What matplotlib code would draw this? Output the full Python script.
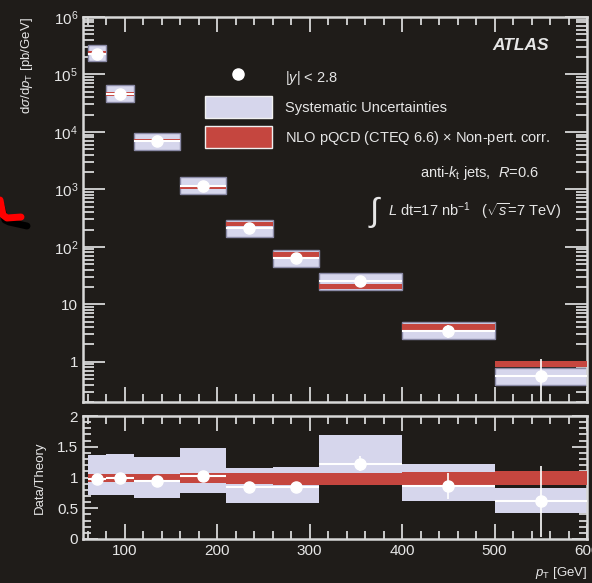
import numpy as np
import matplotlib.pyplot as plt
from matplotlib.lines import Line2D
from matplotlib.patches import Patch
from matplotlib.ticker import MultipleLocator, LogLocator, FixedLocator, NullFormatter

plt.rcParams['font.family'] = ['Liberation Sans', 'DejaVu Sans']
plt.rcParams['mathtext.fontset'] = 'custom'
plt.rcParams['mathtext.rm'] = 'Liberation Sans'
plt.rcParams['mathtext.it'] = 'Liberation Sans:italic'
plt.rcParams['mathtext.bf'] = 'Liberation Sans:bold'

# pT bins [GeV]
bin_lo = [60, 80, 110, 160, 210, 260, 310, 400, 500]
bin_hi = [80, 110, 160, 210, 260, 310, 400, 500, 600]
bin_c = [70, 95, 135, 185, 235, 285, 355, 450, 550]

# measured cross section [pb/GeV]
xsec = [2.3e5, 4.6e4, 6.9e3, 1.15e3, 214, 64, 25, 3.5, 0.57]
stat_rel = [0.02, 0.02, 0.03, 0.03, 0.04, 0.06, 0.10, 0.25, 0.95]
sys_lo = [0.73, 0.72, 0.71, 0.73, 0.70, 0.70, 0.72, 0.72, 0.69]
sys_hi = [1.41, 1.40, 1.40, 1.43, 1.38, 1.40, 1.39, 1.41, 1.36]

# NLO theory
theory = [2.37e5, 4.6e4, 7.2e3, 1.12e3, 255, 76, 21, 4.1, 0.95]
th_lo = [0.93, 0.93, 0.92, 0.91, 0.89, 0.88, 0.88, 0.87, 0.87]
th_hi = [1.06, 1.06, 1.06, 1.07, 1.07, 1.07, 1.08, 1.09, 1.10]

# data / theory
ratio = [0.97, 0.99, 0.95, 1.03, 0.84, 0.84, 1.22, 0.86, 0.61]

ytick_vals = [1, 10, 1e2, 1e3, 1e4, 1e5, 1e6]
ytick_labels = ['1', '10', '$10^2$', '$10^3$', '$10^4$', '$10^5$', '$10^6$']

bg = '#1f1c19'
fg = '#e6e6e6'
light = '#d6d6ec'
red = '#c5463f'

fig = plt.figure(figsize=(5.92, 5.83), dpi=100, facecolor=bg)
ax = fig.add_axes([0.140, 0.3105, 0.8516, 0.6605], facecolor=bg)
axr = fig.add_axes([0.140, 0.0755, 0.8516, 0.2109], facecolor=bg)

lo = np.array(bin_lo)
w = np.array(bin_hi) - lo
xs = np.array(xsec)
th = np.array(theory)
rt = np.array(ratio)

# top panel
ax.bar(lo, xs * (np.array(sys_hi) - np.array(sys_lo)), width=w, bottom=xs * np.array(sys_lo),
       align='edge', color=light, edgecolor='#8a8aa6', linewidth=1, zorder=2)
ax.bar(lo, th * (np.array(th_hi) - np.array(th_lo)), width=w, bottom=th * np.array(th_lo),
       align='edge', color=red, linewidth=0, zorder=3)
ax.hlines(xs, lo, lo + w, color='white', lw=1.5, zorder=4)
ax.errorbar(bin_c, xs, yerr=[xs * np.minimum(np.array(stat_rel), 0.999), xs * np.array(stat_rel)],
            fmt='o', color='white', ms=8, elinewidth=1.2, capsize=0, zorder=5)
ax.set_yscale('log')
ax.set_xlim(55, 600)
ax.set_ylim(0.2, 1e6)
ax.yaxis.set_major_locator(FixedLocator(ytick_vals))
ax.set_yticklabels(ytick_labels)
ax.yaxis.set_minor_locator(LogLocator(base=10, subs=np.arange(2, 10)))
ax.yaxis.set_minor_formatter(NullFormatter())
ax.xaxis.set_major_locator(MultipleLocator(100))
ax.xaxis.set_minor_locator(MultipleLocator(20))
ax.tick_params(labelbottom=False)
ax.set_ylabel(r'd$\sigma$/d$p_{\rm T}$ [pb/GeV]', color=fg, fontsize=9.5, loc='top', labelpad=13)

# ratio panel
axr.bar(lo, rt * (np.array(sys_hi) - np.array(sys_lo)), width=w, bottom=rt * np.array(sys_lo),
        align='edge', color=light, linewidth=0, zorder=2)
axr.bar(lo, np.array(th_hi) - np.array(th_lo), width=w, bottom=th_lo,
        align='edge', color=red, linewidth=0, zorder=3)
axr.hlines(rt, lo, lo + w, color='white', lw=1.5, zorder=4)
axr.errorbar(bin_c, rt, yerr=rt * np.array(stat_rel), fmt='o', color='white', ms=8,
             elinewidth=1.2, capsize=0, zorder=5)
axr.set_xlim(55, 600)
axr.set_ylim(0, 2)
axr.yaxis.set_major_locator(FixedLocator([0, 0.5, 1, 1.5, 2]))
axr.set_yticklabels(['0', '0.5', '1', '1.5', '2'])
axr.yaxis.set_minor_locator(MultipleLocator(0.1))
axr.xaxis.set_major_locator(MultipleLocator(100))
axr.xaxis.set_minor_locator(MultipleLocator(20))
axr.set_ylabel('Data/Theory', color=fg, fontsize=9.5, labelpad=8)
axr.set_xlabel(r'$p_{\rm T}$ [GeV]', color=fg, fontsize=9.5, loc='right', labelpad=5)

for a in (ax, axr):
    for s in a.spines.values():
        s.set_color('#d8d8d8')
        s.set_linewidth(1.8)
    a.tick_params(which='both', direction='in', top=True, right=True, colors='#d8d8d8',
                  labelcolor=fg, labelsize=11, width=1.3)
    a.tick_params(which='minor', length=6)
    a.tick_params(axis='x', which='major', length=11)
    a.tick_params(axis='y', which='major', length=16)
    a.tick_params(axis='y', which='minor', length=8)
axr.tick_params(axis='y', which='major', length=11)
axr.tick_params(axis='y', which='minor', length=6)

# legend
handles = [Line2D([], [], marker='o', ls='none', color='white', ms=8),
           Patch(facecolor=light, edgecolor='#f0f0f0', lw=1),
           Patch(facecolor=red, edgecolor='#f0f0f0', lw=1)]
labels = [r'$|y|$ < 2.8', 'Systematic Uncertainties', r'NLO pQCD (CTEQ 6.6) $\times$ Non-pert. corr.']
leg = ax.legend(handles, labels, loc='upper left', bbox_to_anchor=(0.242, 0.872), frameon=False,
                fontsize=10.5, handlelength=4.6, handleheight=1.95, handletextpad=0.9,
                labelspacing=0.55, borderpad=0, borderaxespad=0)
for t in leg.get_texts():
    t.set_color(fg)

ax.text(0.925, 0.925, 'ATLAS', transform=ax.transAxes, color=fg, fontsize=12.5,
        fontweight='bold', fontstyle='italic', ha='right', va='center')
ax.text(0.905, 0.594, r'anti-$k_{\rm t}$ jets,  $R$=0.6', transform=ax.transAxes, color=fg,
        fontsize=10.5, ha='right', va='center')
ax.text(0.580, 0.494, r'$\int$', transform=ax.transAxes, color=fg, fontsize=24,
        ha='center', va='center')
ax.text(0.950, 0.494, r'$L$ dt=17 nb$^{-1}$   ($\sqrt{s}$=7 TeV)', transform=ax.transAxes,
        color=fg, fontsize=10.5, ha='right', va='center')

# red scribble at the left edge
fx = lambda x: x / 592
fy = lambda y: 1 - y / 583
fig.add_artist(Line2D([fx(1), fx(5), fx(9), fx(27)], [fy(205), fy(220), fy(222), fy(226)],
                      transform=fig.transFigure, color='black', lw=5, solid_capstyle='round'))
fig.add_artist(Line2D([fx(0), fx(3), fx(7), fx(21)], [fy(200), fy(215), fy(218), fy(217)],
                      transform=fig.transFigure, color='#ff0000', lw=5, solid_capstyle='round'))

fig.savefig('out.png', dpi=100, facecolor=bg)
